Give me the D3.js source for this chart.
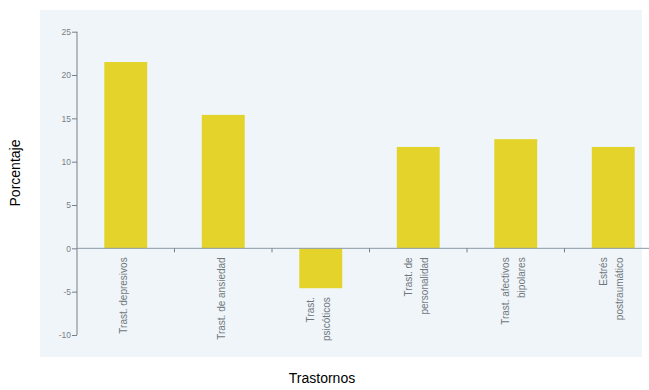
<!DOCTYPE html>
<html><head><meta charset="utf-8">
<script src="https://cdn.jsdelivr.net/npm/d3@7/dist/d3.min.js"></script>
<style>body{margin:0;background:#fff}svg{display:block}</style>
</head><body>
<svg id="c" width="649" height="390"></svg>
<script>
const categories = [
  ["Trast. depresivos"],
  ["Trast. de ansiedad"],
  ["Trast.", "psicóticos"],
  ["Trast. de", "personalidad"],
  ["Trast. afectivos", "bipolares"],
  ["Estrés", "postraumático"]
];
const values = [21.5, 15.4, -4.6, 11.7, 12.6, 11.7];
const yTicks = [25, 20, 15, 10, 5, 0, -5, -10];

const svg = d3.select("#c");
// scanned page background tint
svg.append("rect").attr("x", 40).attr("y", 10).attr("width", 602).attr("height", 347)
  .attr("fill", "#eff5f9");

const x = d3.scaleBand().domain(d3.range(categories.length)).range([77, 662]).paddingInner(0.56).paddingOuter(0.28);
const y = d3.scaleLinear().domain([-10, 25]).range([335, 31.7]);

// bars
svg.selectAll("rect.bar").data(values).join("rect").attr("class", "bar")
  .attr("x", (d, i) => x(i))
  .attr("width", x.bandwidth())
  .attr("y", d => y(Math.max(0, d)))
  .attr("height", d => Math.abs(y(d) - y(0)))
  .attr("fill", "#e3d32a");

// y axis
const yAxis = d3.axisLeft(y).tickValues(yTicks).tickSize(5).tickFormat(d => d);
const gy = svg.append("g").attr("transform", "translate(77,0)").call(yAxis);
gy.select(".domain").attr("stroke", "#7a7f84").attr("d", `M0,${y(25)}V${y(-10)}`);
gy.selectAll(".tick line").attr("stroke", "#7a7f84");
gy.selectAll(".tick text").attr("fill", "#7a7f84").attr("font-size", 8.5)
  .attr("font-family", "'Liberation Sans',sans-serif").attr("x", -6);

// zero line (category axis)
svg.append("line").attr("x1", 77).attr("x2", 649).attr("y1", y(0)).attr("y2", y(0))
  .attr("stroke", "#8a9aa6").attr("stroke-width", 1);

// category separators
const step = x.step();
d3.range(1, categories.length).forEach(i => {
  const xp = 77 + step * i;
  svg.append("line").attr("x1", xp).attr("x2", xp).attr("y1", y(0)).attr("y2", y(0) + 4).attr("stroke", "#7a7f84");
});

// category labels, rotated
categories.forEach((lines, i) => {
  const cx = x(i) + x.bandwidth() / 2 - 2;
  const n = lines.length;
  const top = y(Math.min(0, values[i])) + 9;
  const t = svg.append("text")
    .attr("transform", `translate(${cx},${top}) rotate(-90)`)
    .attr("text-anchor", "end")
    .attr("fill", "#6f777d").attr("font-size", 10)
    .attr("font-family", "'Liberation Sans',sans-serif");
  lines.forEach((l, j) => {
    t.append("tspan").attr("x", 0).attr("y", (j - (n - 1) / 2) * 16 + 3.5).text(l);
  });
});

// axis titles
svg.append("text").attr("transform", "translate(20,173) rotate(-90)").attr("text-anchor", "middle")
  .attr("font-family", "Arial,'Liberation Sans',sans-serif").attr("font-size", 14).attr("fill", "#000").text("Porcentaje");
svg.append("text").attr("x", 322).attr("y", 383).attr("text-anchor", "middle")
  .attr("font-family", "Arial,'Liberation Sans',sans-serif").attr("font-size", 14).attr("fill", "#000").text("Trastornos");
</script>
</body></html>
